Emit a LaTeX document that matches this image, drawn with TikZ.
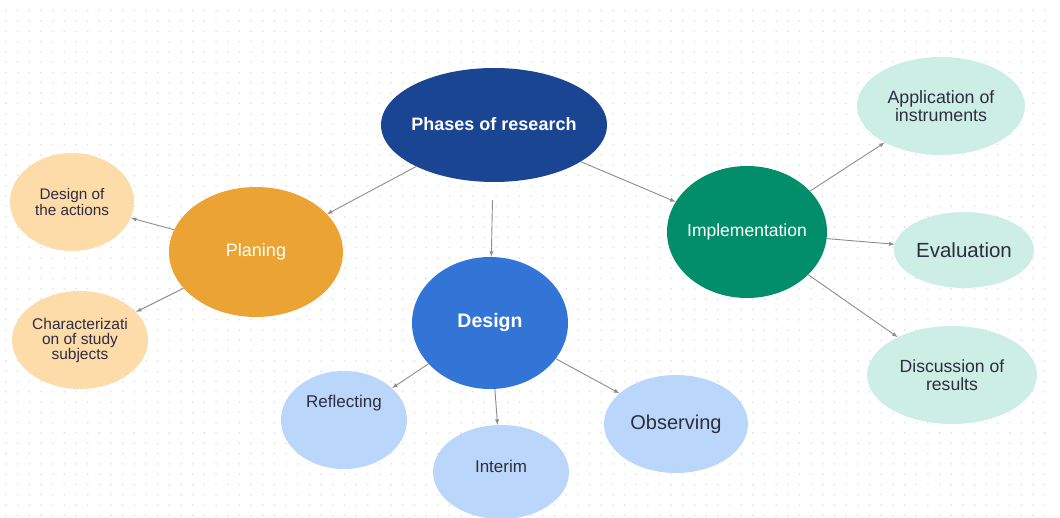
\documentclass[tikz,border=0pt]{standalone}
\usepackage{fontspec}
\setmainfont{Liberation Sans}
\usetikzlibrary{shapes.geometric,arrows}

\definecolor{phasesblue}{HTML}{1A4592}
\definecolor{planorange}{HTML}{EBA434}
\definecolor{paleorange}{HTML}{FDDCA9}
\definecolor{designblue}{HTML}{3375D7}
\definecolor{paleblue}{HTML}{BBD6FB}
\definecolor{implgreen}{HTML}{028E6A}
\definecolor{palegreen}{HTML}{CDEEE5}
\definecolor{linkgray}{HTML}{8C8C8C}
\definecolor{inkdark}{HTML}{2D2D3F}
\definecolor{dotgray}{HTML}{DEDEDE}

\tikzset{
  bubble/.style={ellipse,inner ysep=0pt,inner xsep=-40pt,align=center,minimum width=2*#1},
  phase/.style={bubble=#1,text=white},
  item/.style={bubble=#1,text=inkdark},
  link/.style={->,draw=linkgray,line width=0.9pt},
}

\begin{document}
\begin{tikzpicture}[x=1pt,y=-1pt,>=latex]
\useasboundingbox (0,0) rectangle (1060,518);
% dotted canvas, one row at a time
\foreach \j in {0,...,49}
  \fill[dotgray] foreach \i in {0,...,89} {(6+11.67*\i,10.7+10.3*\j) circle (0.9pt)};

% main phase
\node[phase=113,minimum height=114,fill=phasesblue,font=\fontsize{18}{20}\selectfont\bfseries] (phases) at (494,125) {\raisebox{3pt}{Phases of research}};

% planning branch
\node[phase=87,minimum height=130,fill=planorange,font=\fontsize{18}{20}\selectfont] (plan) at (256,252) {Planing};
\node[item=62,minimum height=98,fill=paleorange,font=\fontsize{15.3}{16}\selectfont] (actions) at (72,202) {Design of\\the actions};
\node[item=68,minimum height=98,fill=paleorange,font=\fontsize{15.5}{15}\selectfont] (subjects) at (80,340) {Characterizati\\on of study\\subjects};

% design branch
\node[phase=78,minimum height=132,fill=designblue,font=\fontsize{19.5}{22}\selectfont\bfseries] (design) at (490,323) {Design};
\node[item=63,minimum height=98,fill=paleblue,label={[text=inkdark,font=\fontsize{17}{18}\selectfont,yshift=17pt]center:Reflecting}] (reflect) at (344,420) {};
\node[item=68,minimum height=94,fill=paleblue,label={[text=inkdark,font=\fontsize{17}{18}\selectfont,yshift=6pt]center:Interim}] (interim) at (501,472) {};
\node[item=72,minimum height=98,fill=paleblue,font=\fontsize{20}{22}\selectfont] (observe) at (676,424) {Observing};

% implementation branch
\node[phase=80,minimum height=132,fill=implgreen,font=\fontsize{17.5}{20}\selectfont] (impl) at (747,232) {Implementation};
\node[item=84,minimum height=98,fill=palegreen,font=\fontsize{17.8}{18}\selectfont] (instr) at (941,106) {Application of\\instruments};
\node[item=70,minimum height=76,fill=palegreen,font=\fontsize{20.5}{22}\selectfont] (eval) at (964,250) {Evaluation};
\node[item=85,minimum height=98,fill=palegreen,font=\fontsize{17.6}{18}\selectfont] (results) at (952,375) {Discussion of\\results};

% connectors
\draw[link] (phases) -- (plan);
\draw[link,shorten <=18pt] (phases) -- (design);
\draw[link] (phases) -- (impl);
\draw[link] (plan) -- (actions);
\draw[link] (plan) -- (subjects);
\draw[link] (design) -- (reflect);
\draw[link] (design) -- (interim);
\draw[link] (design) -- (observe);
\draw[link] (impl) -- (instr);
\draw[link] (impl) -- (eval);
\draw[link] (impl) -- (results);
\end{tikzpicture}
\end{document}
